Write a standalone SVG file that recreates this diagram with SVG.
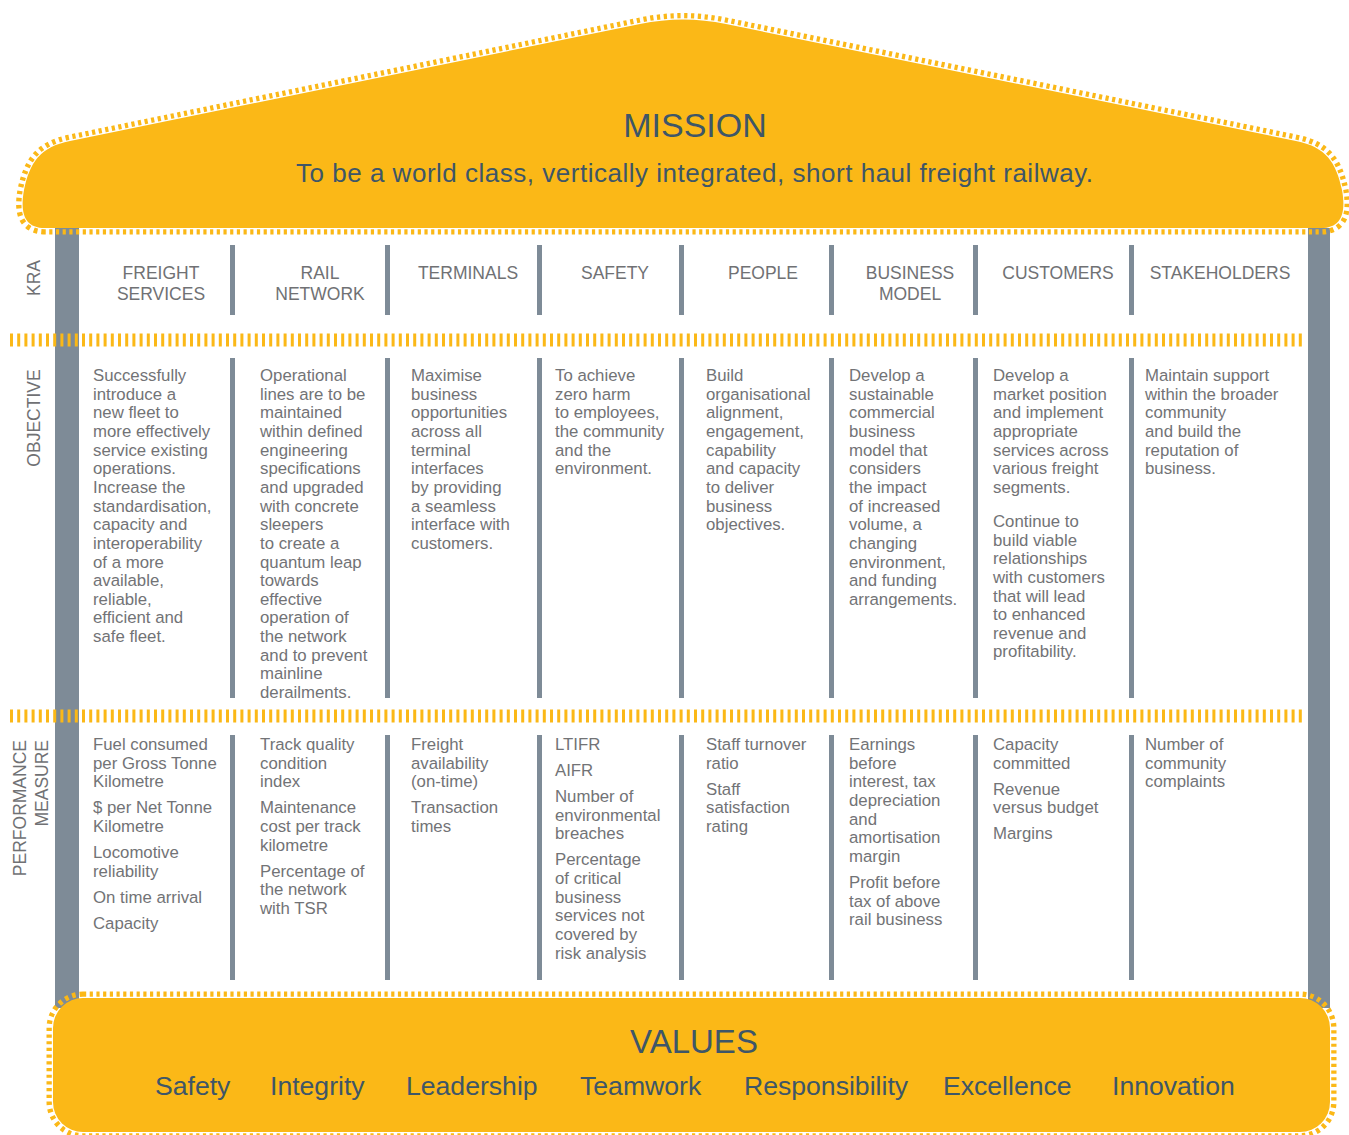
<svg xmlns="http://www.w3.org/2000/svg" width="1349" height="1135" viewBox="0 0 1349 1135">
  <defs>
    <style>
      .pillar { fill: #7e8b97; }
      .div { fill: #7e8b97; }
      .band { fill: none; stroke: #fbb817; stroke-width: 13; stroke-dasharray: 3 4.2; }
      .teeth { fill: none; stroke: #fbb817; stroke-width: 13; stroke-dasharray: 3.2 3.5; }
      .solid { fill: #fbb817; stroke: none; }
      .head { font-family: "Liberation Sans", Arial, sans-serif; font-size: 17.5px; fill: #707174; text-anchor: middle; }
      .side { font-family: "Liberation Sans", Arial, sans-serif; font-size: 17.5px; fill: #707174; }
      .body { font-family: "Liberation Sans", Arial, sans-serif; font-size: 16.8px; fill: #727376; }
      .title { font-family: "Liberation Sans", Arial, sans-serif; fill: #3e5668; text-anchor: middle; }
      .val { font-family: "Liberation Sans", Arial, sans-serif; font-size: 26.6px; fill: #3e5668; }
    </style>
    <path id="roofShape" d="M 45 228 C 24 228 20 212 24 190 C 30 162 40 147 70 141 L 640 24 Q 683 15 726 24 L 1296 141 C 1326 147 1336 162 1342 190 C 1346 212 1342 228 1321 228 Z"/>
    <rect id="baseShape" x="53" y="998" width="1277" height="134" rx="30" ry="30"/>
    <mask id="roofGap" maskUnits="userSpaceOnUse" x="0" y="0" width="1349" height="1135">
      <rect x="0" y="0" width="1349" height="1135" fill="#fff"/>
      <use href="#roofShape" fill="none" stroke="#000" stroke-width="2.4"/>
    </mask>
    <mask id="baseGap" maskUnits="userSpaceOnUse" x="0" y="0" width="1349" height="1135">
      <rect x="0" y="0" width="1349" height="1135" fill="#fff"/>
      <use href="#baseShape" fill="none" stroke="#000" stroke-width="2.4"/>
    </mask>
  </defs>

  <rect width="1349" height="1135" fill="#ffffff"/>

  <!-- side pillars -->
  <g id="pillars">
    <rect class="pillar" x="55" y="228" width="24" height="780"/>
    <rect class="pillar" x="1308" y="228" width="22" height="780"/>
  </g>

  <!-- column dividers for the three rows -->
  <g id="connectors">
    <g id="dividers-kra">
      <rect class="div" x="230" y="245" width="5" height="70"/>
      <rect class="div" x="385" y="245" width="5" height="70"/>
      <rect class="div" x="537" y="245" width="5" height="70"/>
      <rect class="div" x="679" y="245" width="5" height="70"/>
      <rect class="div" x="829" y="245" width="5" height="70"/>
      <rect class="div" x="973" y="245" width="5" height="70"/>
      <rect class="div" x="1129" y="245" width="5" height="70"/>
    </g>
    <g id="dividers-objective">
      <rect class="div" x="230" y="358" width="5" height="340"/>
      <rect class="div" x="385" y="358" width="5" height="340"/>
      <rect class="div" x="537" y="358" width="5" height="340"/>
      <rect class="div" x="679" y="358" width="5" height="340"/>
      <rect class="div" x="829" y="358" width="5" height="340"/>
      <rect class="div" x="973" y="358" width="5" height="340"/>
      <rect class="div" x="1129" y="358" width="5" height="340"/>
    </g>
    <g id="dividers-measure">
      <rect class="div" x="230" y="735" width="5" height="245"/>
      <rect class="div" x="385" y="735" width="5" height="245"/>
      <rect class="div" x="537" y="735" width="5" height="245"/>
      <rect class="div" x="679" y="735" width="5" height="245"/>
      <rect class="div" x="829" y="735" width="5" height="245"/>
      <rect class="div" x="973" y="735" width="5" height="245"/>
      <rect class="div" x="1129" y="735" width="5" height="245"/>
    </g>
    <!-- dashed row separators -->
    <line class="band" x1="10" y1="340" x2="1303" y2="340"/>
    <line class="band" x1="10" y1="716" x2="1303" y2="716"/>
  </g>

  <!-- roof: mission -->
  <g id="mission">
    <use href="#roofShape" class="teeth" mask="url(#roofGap)"/>
    <use href="#roofShape" class="solid"/>
    <text class="title" x="695" y="137" font-size="34">MISSION</text>
    <text class="title" x="694.5" y="182" font-size="26" textLength="797" lengthAdjust="spacing">To be a world class, vertically integrated, short haul freight railway.</text>
  </g>

  <!-- row labels -->
  <g id="row-labels">
    <text class="side" transform="translate(40,278) rotate(-90)" text-anchor="middle">KRA</text>
    <text class="side" transform="translate(40,418) rotate(-90)" text-anchor="middle">OBJECTIVE</text>
    <text class="side" transform="translate(26,740) rotate(-90)" text-anchor="end"><tspan x="0" y="0">PERFORMANCE</tspan><tspan x="0" y="22">MEASURE</tspan></text>
  </g>

  <!-- KRA headings -->
  <g id="kra-headings">
    <text class="head" x="161" y="279"><tspan x="161">FREIGHT</tspan><tspan x="161" dy="21">SERVICES</tspan></text>
    <text class="head" x="320" y="279"><tspan x="320">RAIL</tspan><tspan x="320" dy="21">NETWORK</tspan></text>
    <text class="head" x="468" y="279">TERMINALS</text>
    <text class="head" x="615" y="279">SAFETY</text>
    <text class="head" x="763" y="279">PEOPLE</text>
    <text class="head" x="910" y="279"><tspan x="910">BUSINESS</tspan><tspan x="910" dy="21">MODEL</tspan></text>
    <text class="head" x="1058" y="279">CUSTOMERS</text>
    <text class="head" x="1220" y="279">STAKEHOLDERS</text>
  </g>

  <!-- objectives -->
  <g id="objectives">
    <text class="body" y="381">
      <tspan x="93">Successfully</tspan>
      <tspan x="93" dy="18.65">introduce a</tspan>
      <tspan x="93" dy="18.65">new fleet to</tspan>
      <tspan x="93" dy="18.65">more effectively</tspan>
      <tspan x="93" dy="18.65">service existing</tspan>
      <tspan x="93" dy="18.65">operations.</tspan>
      <tspan x="93" dy="18.65">Increase the</tspan>
      <tspan x="93" dy="18.65">standardisation,</tspan>
      <tspan x="93" dy="18.65">capacity and</tspan>
      <tspan x="93" dy="18.65">interoperability</tspan>
      <tspan x="93" dy="18.65">of a more</tspan>
      <tspan x="93" dy="18.65">available,</tspan>
      <tspan x="93" dy="18.65">reliable,</tspan>
      <tspan x="93" dy="18.65">efficient and</tspan>
      <tspan x="93" dy="18.65">safe fleet.</tspan>
    </text>
    <text class="body" y="381">
      <tspan x="260">Operational</tspan>
      <tspan x="260" dy="18.65">lines are to be</tspan>
      <tspan x="260" dy="18.65">maintained</tspan>
      <tspan x="260" dy="18.65">within defined</tspan>
      <tspan x="260" dy="18.65">engineering</tspan>
      <tspan x="260" dy="18.65">specifications</tspan>
      <tspan x="260" dy="18.65">and upgraded</tspan>
      <tspan x="260" dy="18.65">with concrete</tspan>
      <tspan x="260" dy="18.65">sleepers</tspan>
      <tspan x="260" dy="18.65">to create a</tspan>
      <tspan x="260" dy="18.65">quantum leap</tspan>
      <tspan x="260" dy="18.65">towards</tspan>
      <tspan x="260" dy="18.65">effective</tspan>
      <tspan x="260" dy="18.65">operation of</tspan>
      <tspan x="260" dy="18.65">the network</tspan>
      <tspan x="260" dy="18.65">and to prevent</tspan>
      <tspan x="260" dy="18.65">mainline</tspan>
      <tspan x="260" dy="18.65">derailments.</tspan>
    </text>
    <text class="body" y="381">
      <tspan x="411">Maximise</tspan>
      <tspan x="411" dy="18.65">business</tspan>
      <tspan x="411" dy="18.65">opportunities</tspan>
      <tspan x="411" dy="18.65">across all</tspan>
      <tspan x="411" dy="18.65">terminal</tspan>
      <tspan x="411" dy="18.65">interfaces</tspan>
      <tspan x="411" dy="18.65">by providing</tspan>
      <tspan x="411" dy="18.65">a seamless</tspan>
      <tspan x="411" dy="18.65">interface with</tspan>
      <tspan x="411" dy="18.65">customers.</tspan>
    </text>
    <text class="body" y="381">
      <tspan x="555">To achieve</tspan>
      <tspan x="555" dy="18.65">zero harm</tspan>
      <tspan x="555" dy="18.65">to employees,</tspan>
      <tspan x="555" dy="18.65">the community</tspan>
      <tspan x="555" dy="18.65">and the</tspan>
      <tspan x="555" dy="18.65">environment.</tspan>
    </text>
    <text class="body" y="381">
      <tspan x="706">Build</tspan>
      <tspan x="706" dy="18.65">organisational</tspan>
      <tspan x="706" dy="18.65">alignment,</tspan>
      <tspan x="706" dy="18.65">engagement,</tspan>
      <tspan x="706" dy="18.65">capability</tspan>
      <tspan x="706" dy="18.65">and capacity</tspan>
      <tspan x="706" dy="18.65">to deliver</tspan>
      <tspan x="706" dy="18.65">business</tspan>
      <tspan x="706" dy="18.65">objectives.</tspan>
    </text>
    <text class="body" y="381">
      <tspan x="849">Develop a</tspan>
      <tspan x="849" dy="18.65">sustainable</tspan>
      <tspan x="849" dy="18.65">commercial</tspan>
      <tspan x="849" dy="18.65">business</tspan>
      <tspan x="849" dy="18.65">model that</tspan>
      <tspan x="849" dy="18.65">considers</tspan>
      <tspan x="849" dy="18.65">the impact</tspan>
      <tspan x="849" dy="18.65">of increased</tspan>
      <tspan x="849" dy="18.65">volume, a</tspan>
      <tspan x="849" dy="18.65">changing</tspan>
      <tspan x="849" dy="18.65">environment,</tspan>
      <tspan x="849" dy="18.65">and funding</tspan>
      <tspan x="849" dy="18.65">arrangements.</tspan>
    </text>
    <text class="body" y="381">
      <tspan x="993">Develop a</tspan>
      <tspan x="993" dy="18.65">market position</tspan>
      <tspan x="993" dy="18.65">and implement</tspan>
      <tspan x="993" dy="18.65">appropriate</tspan>
      <tspan x="993" dy="18.65">services across</tspan>
      <tspan x="993" dy="18.65">various freight</tspan>
      <tspan x="993" dy="18.65">segments.</tspan>
      <tspan x="993" dy="34">Continue to</tspan>
      <tspan x="993" dy="18.65">build viable</tspan>
      <tspan x="993" dy="18.65">relationships</tspan>
      <tspan x="993" dy="18.65">with customers</tspan>
      <tspan x="993" dy="18.65">that will lead</tspan>
      <tspan x="993" dy="18.65">to enhanced</tspan>
      <tspan x="993" dy="18.65">revenue and</tspan>
      <tspan x="993" dy="18.65">profitability.</tspan>
    </text>
    <text class="body" y="381">
      <tspan x="1145">Maintain support</tspan>
      <tspan x="1145" dy="18.65">within the broader</tspan>
      <tspan x="1145" dy="18.65">community</tspan>
      <tspan x="1145" dy="18.65">and build the</tspan>
      <tspan x="1145" dy="18.65">reputation of</tspan>
      <tspan x="1145" dy="18.65">business.</tspan>
    </text>
  </g>

  <!-- performance measures -->
  <g id="measures">
    <text class="body" y="750">
      <tspan x="93">Fuel consumed</tspan>
      <tspan x="93" dy="18.65">per Gross Tonne</tspan>
      <tspan x="93" dy="18.65">Kilometre</tspan>
      <tspan x="93" dy="26">$ per Net Tonne</tspan>
      <tspan x="93" dy="18.65">Kilometre</tspan>
      <tspan x="93" dy="26">Locomotive</tspan>
      <tspan x="93" dy="18.65">reliability</tspan>
      <tspan x="93" dy="26">On time arrival</tspan>
      <tspan x="93" dy="26">Capacity</tspan>
    </text>
    <text class="body" y="750">
      <tspan x="260">Track quality</tspan>
      <tspan x="260" dy="18.65">condition</tspan>
      <tspan x="260" dy="18.65">index</tspan>
      <tspan x="260" dy="26">Maintenance</tspan>
      <tspan x="260" dy="18.65">cost per track</tspan>
      <tspan x="260" dy="18.65">kilometre</tspan>
      <tspan x="260" dy="26">Percentage of</tspan>
      <tspan x="260" dy="18.65">the network</tspan>
      <tspan x="260" dy="18.65">with TSR</tspan>
    </text>
    <text class="body" y="750">
      <tspan x="411">Freight</tspan>
      <tspan x="411" dy="18.65">availability</tspan>
      <tspan x="411" dy="18.65">(on-time)</tspan>
      <tspan x="411" dy="26">Transaction</tspan>
      <tspan x="411" dy="18.65">times</tspan>
    </text>
    <text class="body" y="750">
      <tspan x="555">LTIFR</tspan>
      <tspan x="555" dy="26">AIFR</tspan>
      <tspan x="555" dy="26">Number of</tspan>
      <tspan x="555" dy="18.65">environmental</tspan>
      <tspan x="555" dy="18.65">breaches</tspan>
      <tspan x="555" dy="26">Percentage</tspan>
      <tspan x="555" dy="18.65">of critical</tspan>
      <tspan x="555" dy="18.65">business</tspan>
      <tspan x="555" dy="18.65">services not</tspan>
      <tspan x="555" dy="18.65">covered by</tspan>
      <tspan x="555" dy="18.65">risk analysis</tspan>
    </text>
    <text class="body" y="750">
      <tspan x="706">Staff turnover</tspan>
      <tspan x="706" dy="18.65">ratio</tspan>
      <tspan x="706" dy="26">Staff</tspan>
      <tspan x="706" dy="18.65">satisfaction</tspan>
      <tspan x="706" dy="18.65">rating</tspan>
    </text>
    <text class="body" y="750">
      <tspan x="849">Earnings</tspan>
      <tspan x="849" dy="18.65">before</tspan>
      <tspan x="849" dy="18.65">interest, tax</tspan>
      <tspan x="849" dy="18.65">depreciation</tspan>
      <tspan x="849" dy="18.65">and</tspan>
      <tspan x="849" dy="18.65">amortisation</tspan>
      <tspan x="849" dy="18.65">margin</tspan>
      <tspan x="849" dy="26">Profit before</tspan>
      <tspan x="849" dy="18.65">tax of above</tspan>
      <tspan x="849" dy="18.65">rail business</tspan>
    </text>
    <text class="body" y="750">
      <tspan x="993">Capacity</tspan>
      <tspan x="993" dy="18.65">committed</tspan>
      <tspan x="993" dy="26">Revenue</tspan>
      <tspan x="993" dy="18.65">versus budget</tspan>
      <tspan x="993" dy="26">Margins</tspan>
    </text>
    <text class="body" y="750">
      <tspan x="1145">Number of</tspan>
      <tspan x="1145" dy="18.65">community</tspan>
      <tspan x="1145" dy="18.65">complaints</tspan>
    </text>
  </g>

  <!-- base: values -->
  <g id="values">
    <use href="#baseShape" class="teeth" mask="url(#baseGap)"/>
    <use href="#baseShape" class="solid"/>
    <text class="title" x="694" y="1053" font-size="33">VALUES</text>
    <text class="val" x="155" y="1095">Safety</text>
    <text class="val" x="270" y="1095">Integrity</text>
    <text class="val" x="406" y="1095">Leadership</text>
    <text class="val" x="580" y="1095">Teamwork</text>
    <text class="val" x="744" y="1095">Responsibility</text>
    <text class="val" x="943" y="1095">Excellence</text>
    <text class="val" x="1112" y="1095">Innovation</text>
  </g>
</svg>
